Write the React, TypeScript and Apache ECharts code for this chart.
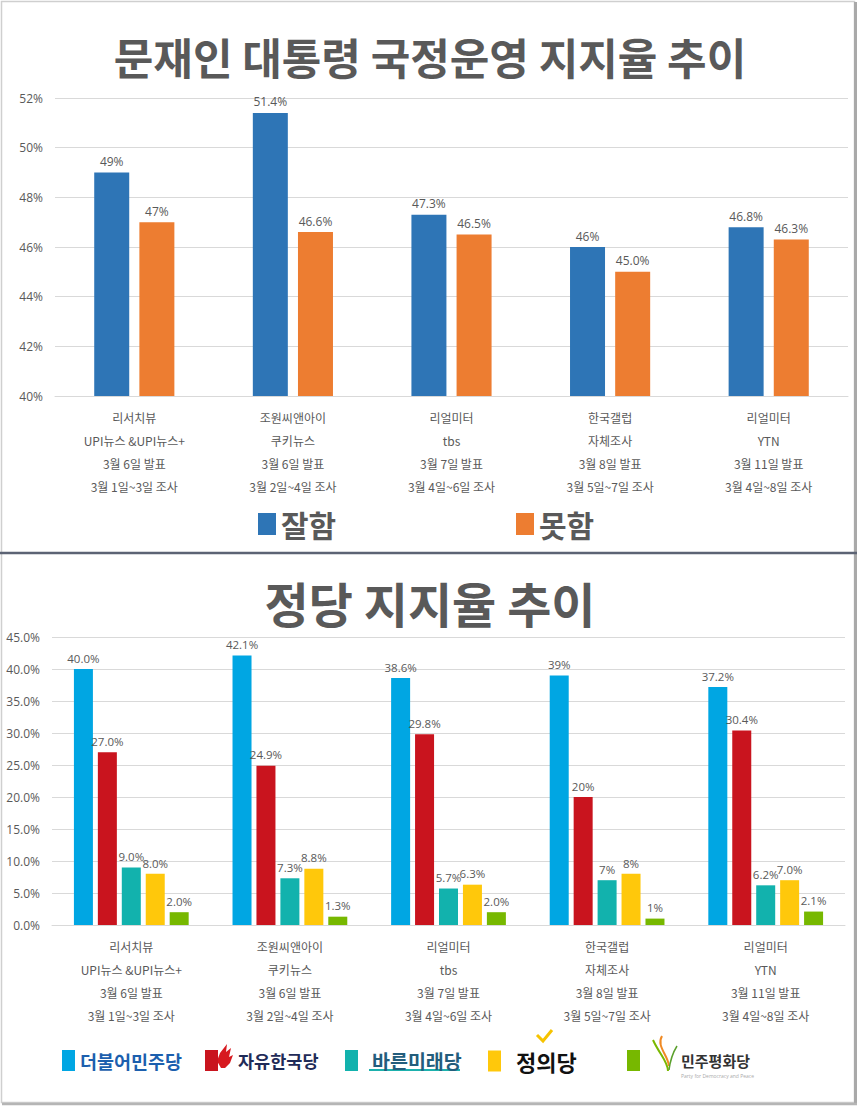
import React, { useEffect, useRef } from "react";
import * as echarts from "echarts";

// ---------- data ----------
const pollsters = ["리서치뷰", "조원씨앤아이", "리얼미터", "한국갤럽", "리얼미터"];
const clients = ["UPI뉴스 &UPI뉴스+", "쿠키뉴스", "tbs", "자체조사", "YTN"];
const releases = ["3월 6일 발표", "3월 6일 발표", "3월 7일 발표", "3월 8일 발표", "3월 11일 발표"];
const surveys = ["3월 1일~3일 조사", "3월 2일~4일 조사", "3월 4일~6일 조사", "3월 5일~7일 조사", "3월 4일~8일 조사"];

const approveValues = [49, 51.4, 47.3, 46, 46.8];
const approveLabels = ["49%", "51.4%", "47.3%", "46%", "46.8%"];
const disapproveValues = [47, 46.6, 46.5, 45.0, 46.3];
const disapproveLabels = ["47%", "46.6%", "46.5%", "45.0%", "46.3%"];

const topTicks = ["40%", "42%", "44%", "46%", "48%", "50%", "52%"];
const bottomTicks = ["0.0%", "5.0%", "10.0%", "15.0%", "20.0%", "25.0%", "30.0%", "35.0%", "40.0%", "45.0%"];

const partyNames = ["더불어민주당", "자유한국당", "바른미래당", "정의당", "민주평화당"];
const democraticValues = [40.0, 42.1, 38.6, 39, 37.2];
const democraticLabels = ["40.0%", "42.1%", "38.6%", "39%", "37.2%"];
const libertyValues = [27.0, 24.9, 29.8, 20, 30.4];
const libertyLabels = ["27.0%", "24.9%", "29.8%", "20%", "30.4%"];
const bareunValues = [9.0, 7.3, 5.7, 7, 6.2];
const bareunLabels = ["9.0%", "7.3%", "5.7%", "7%", "6.2%"];
const justiceValues = [8.0, 8.8, 6.3, 8, 7.0];
const justiceLabels = ["8.0%", "8.8%", "6.3%", "8%", "7.0%"];
const peaceValues = [2.0, 1.3, 2.0, 1, 2.1];
const peaceLabels = ["2.0%", "1.3%", "2.0%", "1%", "2.1%"];

const categories = pollsters.map((p, i) => [p, clients[i], releases[i], surveys[i]].join("\n"));

const GRAY = "#595959";
const FONT = "'Open Sans', 'Noto Sans CJK KR', sans-serif";
const KFONT = "'Noto Sans CJK KR', sans-serif";

export default function App() {
  const ref = useRef<HTMLDivElement>(null);
  useEffect(() => {
    if (!ref.current) return;
    const chart = echarts.init(ref.current, null, { renderer: "svg" });

    const barLabel = (labels: string[], size: number) => ({
      show: true,
      position: "top",
      distance: 5,
      color: GRAY,
      fontSize: size,
      fontFamily: FONT,
      formatter: (p: any) => labels[p.dataIndex],
    });

    const xAxisCommon = {
      type: "category",
      data: categories,
      axisLine: { lineStyle: { color: "#d9d9d9" } },
      axisTick: { show: false },
      axisLabel: { color: GRAY, fontSize: 12, lineHeight: 23, margin: 10, fontFamily: KFONT, interval: 0 },
    };

    const topSeries = [
      { name: "잘함", data: approveValues, labels: approveLabels, color: "#2e75b6" },
      { name: "못함", data: disapproveValues, labels: disapproveLabels, color: "#ed7d31" },
    ].map((s) => ({
      name: s.name,
      type: "bar",
      xAxisIndex: 0,
      yAxisIndex: 0,
      data: s.data,
      barWidth: 35,
      barGap: "29%",
      itemStyle: { color: s.color },
      label: barLabel(s.labels, 12),
    }));

    const partyColors = ["#00a6e3", "#c9141e", "#12b2ad", "#ffc80b", "#77b800"];
    const partyData = [democraticValues, libertyValues, bareunValues, justiceValues, peaceValues];
    const partyLabels = [democraticLabels, libertyLabels, bareunLabels, justiceLabels, peaceLabels];
    const bottomSeries = partyNames.map((n, i) => ({
      name: n,
      type: "bar",
      xAxisIndex: 1,
      yAxisIndex: 1,
      data: partyData[i],
      barWidth: 19,
      barGap: "26%",
      itemStyle: { color: partyColors[i] },
      label: barLabel(partyLabels[i], 11.5),
    }));

    const topLegend = (name: string, left: number) => ({
      data: [name],
      left,
      top: 504,
      itemWidth: 18,
      itemHeight: 22,
      icon: "rect",
      textStyle: { fontSize: 30, fontWeight: "bold", color: GRAY, fontFamily: KFONT },
    });

    const partyLegend = (name: string, left: number, text: any) => ({
      data: [name],
      left,
      top: 1045,
      itemWidth: 13,
      itemHeight: 21,
      itemGap: 0,
      icon: "rect",
      textStyle: { fontFamily: KFONT, fontWeight: "bold", ...text },
    });

    chart.setOption({
      animation: false,
      textStyle: { fontFamily: FONT },
      title: [
        {
          text: "문재인 대통령 국정운영 지지율 추이",
          left: "center",
          top: 29,
          textStyle: { fontSize: 43, fontWeight: "bold", color: GRAY, fontFamily: KFONT },
        },
        {
          text: "정당 지지율 추이",
          left: "center",
          top: 573,
          textStyle: { fontSize: 48, fontWeight: "bold", color: GRAY, fontFamily: KFONT },
        },
      ],
      legend: [
        topLegend("잘함", 253),
        topLegend("못함", 511),
        partyLegend("더불어민주당", 57, { fontSize: 18.5, color: "#1c5fae", padding: [0, 0, 0, 0] }),
        partyLegend("자유한국당", 200, { fontSize: 17.5, color: "#1f2b58", padding: [0, 0, 0, 15] }),
        partyLegend("바른미래당", 340, { fontSize: 19.5, color: "#235d7c", padding: [0, 0, 0, 9] }),
        partyLegend("정의당", 483, { fontSize: 22, color: "#111111", padding: [0, 0, 0, 10] }),
        partyLegend("민주평화당", 622, { fontSize: 15, color: "#333333", padding: [0, 0, 0, 36] }),
      ],
      grid: [
        { left: 55, right: 12, top: 98, height: 298 },
        { left: 52, right: 15, top: 637, height: 288 },
      ],
      xAxis: [
        { ...xAxisCommon, gridIndex: 0 },
        { ...xAxisCommon, gridIndex: 1 },
      ],
      yAxis: [
        {
          type: "value",
          gridIndex: 0,
          min: 40,
          max: 52,
          interval: 2,
          axisLine: { show: false },
          axisTick: { show: false },
          splitLine: { lineStyle: { color: "#d9d9d9" } },
          axisLabel: {
            color: GRAY,
            fontSize: 12,
            margin: 12,
            formatter: (v: number) => topTicks[Math.round((v - 40) / 2)],
          },
        },
        {
          type: "value",
          gridIndex: 1,
          min: 0,
          max: 45,
          interval: 5,
          axisLine: { show: false },
          axisTick: { show: false },
          splitLine: { lineStyle: { color: "#d9d9d9" } },
          axisLabel: {
            color: GRAY,
            fontSize: 12,
            margin: 12,
            formatter: (v: number) => bottomTicks[Math.round(v / 5)],
          },
        },
      ],
      series: [...topSeries, ...bottomSeries],
      graphic: [
        // frame
        {
          type: "rect",
          shape: { x: 1.5, y: 1.5, width: 853, height: 1101 },
          style: { fill: "none", stroke: "#cfcfcf", lineWidth: 1.5 },
          silent: true,
        },
        { type: "line", shape: { x1: 855.5, y1: 2, x2: 855.5, y2: 1104 }, style: { stroke: "#a9a9a9", lineWidth: 3 }, silent: true },
        { type: "line", shape: { x1: 2, y1: 1104, x2: 857, y2: 1104 }, style: { stroke: "#b5b5b5", lineWidth: 2.5 }, silent: true },
        // separator
        { type: "line", shape: { x1: 0, y1: 553, x2: 857, y2: 553 }, style: { stroke: "#5c6374", lineWidth: 2.5 }, silent: true },
        // flame for 자유한국당
        {
          type: "polygon",
          shape: {
            points: [
              [221, 1068], [217, 1061], [220, 1053], [227, 1044], [226, 1052],
              [231, 1048], [229, 1057], [233, 1055], [230, 1063], [225, 1068],
            ],
          },
          style: { fill: "#d7191f" },
          silent: true,
        },
        // underline for 바른미래당
        { type: "line", shape: { x1: 369, y1: 1070, x2: 460, y2: 1070 }, style: { stroke: "#1db1ad", lineWidth: 2 }, silent: true },
        // check mark for 정의당
        {
          type: "polyline",
          shape: { points: [[537, 1035], [543, 1041], [552, 1030]] },
          style: { stroke: "#f6c300", lineWidth: 3, fill: "none" },
          silent: true,
        },
        // leaf logo for 민주평화당
        {
          type: "bezierCurve",
          shape: { x1: 653, y1: 1040, cpx1: 660, cpy1: 1055, cpx2: 668, cpy2: 1062, x2: 668, y2: 1071 },
          style: { stroke: "#7ab800", lineWidth: 2, fill: "none" },
          silent: true,
        },
        {
          type: "bezierCurve",
          shape: { x1: 662, y1: 1036, cpx1: 656, cpy1: 1046, cpx2: 668, cpy2: 1055, x2: 669, y2: 1066 },
          style: { stroke: "#f08a24", lineWidth: 2, fill: "none" },
          silent: true,
        },
        {
          type: "bezierCurve",
          shape: { x1: 677, y1: 1046, cpx1: 672, cpy1: 1054, cpx2: 670, cpy2: 1062, x2: 669, y2: 1070 },
          style: { stroke: "#5aa02c", lineWidth: 1.5, fill: "none" },
          silent: true,
        },
        {
          type: "text",
          x: 681,
          y: 1073,
          style: { text: "Party for Democracy and Peace", fontSize: 5, fill: "#aaaaaa", fontFamily: FONT, verticalAlign: "top" },
          silent: true,
        },
      ],
    });
    return () => chart.dispose();
  }, []);

  return (
    <div
      ref={ref}
      style={{ position: "absolute", left: 0, top: 0, width: 860, height: 1107, background: "#ffffff" }}
    />
  );
}
